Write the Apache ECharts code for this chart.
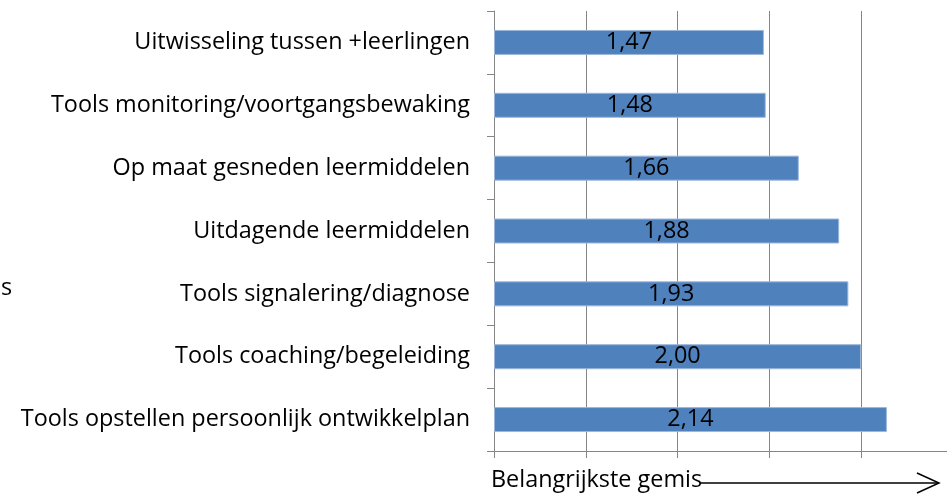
<!DOCTYPE html>
<html>
<head>
<meta charset="utf-8">
<script src="https://cdn.jsdelivr.net/npm/echarts@6/dist/echarts.min.js"></script>
<style>
  html, body { margin: 0; padding: 0; background: #fff; }
  #chart { width: 947px; height: 496px; }
</style>
</head>
<body>
<div id="chart"></div>
<script>
// data, top to bottom as shown
const categories = [
  'Uitwisseling tussen +leerlingen',
  'Tools monitoring/voortgangsbewaking',
  'Op maat gesneden leermiddelen',
  'Uitdagende leermiddelen',
  'Tools signalering/diagnose',
  'Tools coaching/begeleiding',
  'Tools opstellen persoonlijk ontwikkelplan'
];
const values = [1.47, 1.48, 1.66, 1.88, 1.93, 2.00, 2.14];

const axisTitle = 'Belangrijkste gemis';
const sideText = 's';

const font = 'Open Sans';
const fs = 23.4;
const gray = '#868686';

const chart = echarts.init(document.getElementById('chart'));

const option = {
  animation: false,
  textStyle: { fontFamily: font },
  // plot runs past the right edge, like the cropped original
  grid: { left: 494, width: 459, top: 11, bottom: 45, outerBoundsMode: 'none', containLabel: false },
  xAxis: {
    type: 'value',
    min: 0,
    max: 2.5,
    interval: 0.5,
    axisLine: { show: true, lineStyle: { color: gray, width: 1 } },
    axisTick: { show: true, length: 7, lineStyle: { color: gray } },
    axisLabel: { show: false },
    splitLine: { show: true, lineStyle: { color: gray, width: 1 } }
  },
  yAxis: {
    type: 'category',
    inverse: true,
    data: categories,
    axisLine: { show: true, lineStyle: { color: gray, width: 1 } },
    axisTick: { show: true, length: 7, lineStyle: { color: gray } },
    axisLabel: { color: '#000', fontSize: fs, margin: 24, fontFamily: font }
  },
  series: [{
    type: 'bar',
    data: values,
    barWidth: 25,
    itemStyle: { color: '#4F81BD', borderColor: '#9BB7DB', borderWidth: 1 },
    label: {
      show: true,
      position: 'inside',
      color: '#000',
      fontSize: fs,
      fontFamily: font,
      formatter: p => p.value.toFixed(2).replace('.', ',')
    }
  }],
  graphic: [
    {
      type: 'text',
      left: 491, top: 469,
      style: { text: axisTitle, fontSize: fs, fontFamily: font, fill: '#000' }
    },
    {
      type: 'line',
      shape: { x1: 700, y1: 483, x2: 939, y2: 483 },
      style: { stroke: '#000', lineWidth: 1.5 }
    },
    {
      type: 'polyline',
      shape: { points: [[917, 473], [939, 483], [917, 493]] },
      style: { stroke: '#000', lineWidth: 1.5, fill: null }
    },
    {
      type: 'text',
      left: 1, top: 277,
      style: { text: sideText, fontSize: fs, fontFamily: font, fill: '#000' }
    }
  ]
};

chart.setOption(option);
</script>
</body>
</html>
